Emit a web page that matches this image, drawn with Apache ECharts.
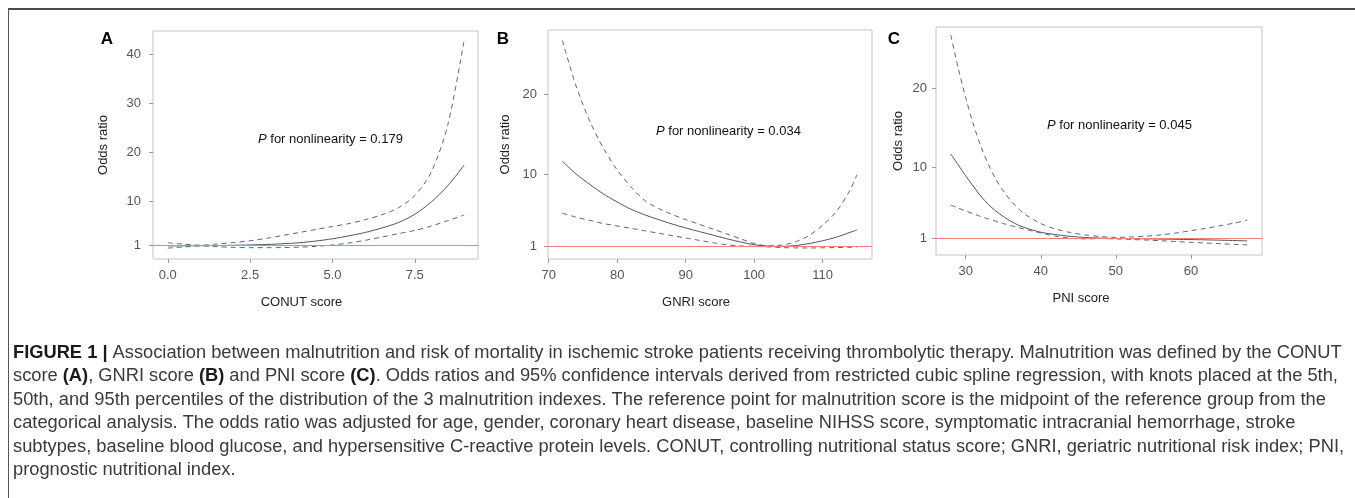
<!DOCTYPE html>
<html>
<head>
<meta charset="utf-8">
<title>Figure 1</title>
<script src="https://cdn.jsdelivr.net/npm/echarts@6.0.0/dist/echarts.min.js"></script>
<style>
  html, body { margin: 0; padding: 0; background: #fff; }
  #main { width: 1355px; height: 498px; }
</style>
</head>
<body>
<div id="main"></div>
<script>
// ---- data ----
// Panel A: CONUT score
const conutX = [0, 0.5, 1, 1.5, 2, 2.5, 3, 3.5, 4, 4.5, 5, 5.5, 6, 6.5, 7, 7.5, 8, 8.5, 9];
const conutOR = [0.95, 0.98, 1.0, 1.03, 1.08, 1.15, 1.25, 1.4, 1.6, 1.95, 2.4, 3.0, 3.7, 4.6, 5.7, 7.4, 9.9, 13.2, 17.4];
const conutUpper = [1.6, 1.3, 1.1, 1.35, 1.65, 2.0, 2.5, 3.1, 3.7, 4.3, 4.9, 5.5, 6.3, 7.3, 8.7, 11.2, 16.0, 25.5, 42.9];
const conutLower = [0.5, 0.75, 0.95, 0.8, 0.65, 0.6, 0.6, 0.62, 0.7, 0.85, 1.15, 1.55, 2.1, 2.75, 3.45, 4.1, 5.0, 6.1, 7.25];

// Panel B: GNRI score
const gnriX = [72, 74, 76, 78, 80, 82, 84, 86, 88, 90, 92, 94, 96, 98, 100, 102, 104, 106, 108, 110, 112, 114, 115];
const gnriOR = [11.6, 10.0, 8.7, 7.5, 6.5, 5.6, 4.9, 4.3, 3.75, 3.25, 2.8, 2.35, 1.9, 1.5, 1.15, 0.98, 0.95, 1.05, 1.3, 1.65, 2.1, 2.7, 3.0];
const gnriUpper = [26.7, 21.0, 16.6, 13.2, 10.5, 8.4, 6.7, 5.7, 4.95, 4.3, 3.7, 3.1, 2.5, 1.9, 1.3, 1.02, 1.1, 1.5, 2.3, 3.6, 5.3, 8.0, 9.9];
const gnriLower = [5.1, 4.6, 4.2, 3.8, 3.5, 3.2, 2.9, 2.6, 2.3, 2.0, 1.7, 1.4, 1.15, 1.0, 0.95, 0.88, 0.8, 0.76, 0.75, 0.77, 0.8, 0.83, 0.85];

// Panel C: PNI score
const pniX = [28, 29, 30, 31, 32, 33, 34, 35, 36, 37, 38, 40, 42, 44, 46, 48, 50, 52, 54, 56, 58, 60, 62, 64, 66, 67.5];
const pniOR = [11.7, 10.3, 8.9, 7.6, 6.35, 5.3, 4.45, 3.75, 3.15, 2.65, 2.3, 1.75, 1.45, 1.22, 1.08, 1.0, 0.97, 0.94, 0.91, 0.88, 0.85, 0.82, 0.78, 0.74, 0.69, 0.65];
const pniUpper = [26.8, 22.6, 18.8, 15.5, 12.7, 10.4, 8.5, 7.0, 5.75, 4.75, 3.95, 2.85, 2.15, 1.7, 1.4, 1.2, 1.1, 1.15, 1.25, 1.42, 1.65, 1.95, 2.25, 2.6, 2.95, 3.3];
const pniLower = [5.2, 4.82, 4.45, 4.1, 3.75, 3.45, 3.15, 2.85, 2.6, 2.35, 2.1, 1.65, 1.25, 0.98, 0.9, 0.95, 0.9, 0.83, 0.76, 0.67, 0.57, 0.47, 0.38, 0.29, 0.2, 0.15];

// tick labels
const conutTicks = [0, 2.5, 5, 7.5];
const gnriTicks = [70, 80, 90, 100, 110];
const pniTicks = [30, 40, 50, 60];
const orTicksA = [1, 10, 20, 30, 40];
const orTicksBC = [1, 10, 20];

const panelTitles = ['CONUT score', 'GNRI score', 'PNI score'];
const pLabels = ['0.179', '0.034', '0.045'];
const refValue = 1;

// caption lines (as wrapped in the figure)
const captionLines = [
  '{b|FIGURE 1 |} Association between malnutrition and risk of mortality in ischemic stroke patients receiving thrombolytic therapy. Malnutrition was defined by the CONUT',
  'score {b|(A)}, GNRI score {b|(B)} and PNI score {b|(C)}. Odds ratios and 95% confidence intervals derived from restricted cubic spline regression, with knots placed at the 5th,',
  '50th, and 95th percentiles of the distribution of the 3 malnutrition indexes. The reference point for malnutrition score is the midpoint of the reference group from the',
  'categorical analysis. The odds ratio was adjusted for age, gender, coronary heart disease, baseline NIHSS score, symptomatic intracranial hemorrhage, stroke',
  'subtypes, baseline blood glucose, and hypersensitive C-reactive protein levels. CONUT, controlling nutritional status score; GNRI, geriatric nutritional risk index; PNI,',
  'prognostic nutritional index.'
];

const FONT = "'Liberation Sans', Arial, Helvetica, sans-serif";

const chart = echarts.init(document.getElementById('main'));

function pairs(xs, ys) {
  return xs.map((x, i) => [x, ys[i]]);
}

// one x axis per panel
function xAxisFor(idx, min, max, ticks, fmt, nameShift) {
  return {
    type: 'value', gridIndex: idx, min: min, max: max,
    name: panelTitles[idx], nameLocation: 'middle', nameGap: 37,
    nameTextStyle: { fontFamily: FONT, fontSize: 13, color: '#222', padding: [0, nameShift, 0, 0] },
    axisLine: { show: false, onZero: false },
    axisTick: { show: true, length: 4, customValues: ticks, lineStyle: { color: '#999' } },
    axisLabel: { customValues: ticks, margin: 10, fontFamily: FONT, fontSize: 13, color: '#555', formatter: fmt },
    splitLine: { show: false }
  };
}

function yAxisFor(idx, min, max, ticks, gap, margin) {
  return {
    type: 'value', gridIndex: idx, min: min, max: max,
    name: 'Odds ratio', nameLocation: 'middle', nameGap: gap,
    nameTextStyle: { fontFamily: FONT, fontSize: 13, color: '#222' },
    axisLine: { show: false, onZero: false },
    axisTick: { show: true, length: 4, customValues: ticks, lineStyle: { color: '#999' } },
    axisLabel: { customValues: ticks, margin: margin, fontFamily: FONT, fontSize: 13, color: '#555' },
    splitLine: { show: false }
  };
}

function panelSeries(idx, xs, est, upper, lower) {
  const base = { type: 'line', xAxisIndex: idx, yAxisIndex: idx, showSymbol: false, smooth: 0.3, silent: true };
  return [
    Object.assign({}, base, {
      name: 'OR', data: pairs(xs, est), z: 3,
      lineStyle: { color: '#555', width: 1 },
      // reference line at OR = 1
      markLine: {
        silent: true, symbol: 'none', label: { show: false },
        lineStyle: { color: '#ef8080', type: 'solid', width: 1 },
        data: [{ yAxis: refValue }]
      }
    }),
    Object.assign({}, base, { name: 'Upper 95% CI', data: pairs(xs, upper), lineStyle: { color: '#666', width: 1, type: [5, 4] } }),
    Object.assign({}, base, { name: 'Lower 95% CI', data: pairs(xs, lower), lineStyle: { color: '#666', width: 1, type: [5, 4] } })
  ];
}

function pText(x, y, val) {
  return {
    type: 'text', x: x, y: y,
    style: {
      text: '{i|P} for nonlinearity = ' + val,
      font: '13px ' + FONT, fill: '#111', textVerticalAlign: 'middle',
      rich: { i: { fontStyle: 'italic', fontSize: 13, fontFamily: FONT, fill: '#111' } }
    }
  };
}

function letter(x, y, t) {
  return {
    type: 'text', x: x, y: y,
    style: { text: t, font: 'bold 17px ' + FONT, fill: '#000', textAlign: 'center', textVerticalAlign: 'middle' }
  };
}

const caption = captionLines.map((line, i) => ({
  type: 'text', x: 13, y: 353 + i * 23.4,
  style: {
    text: line, font: '18.3px ' + FONT, fill: '#3a3a3a', textVerticalAlign: 'middle',
    rich: { b: { fontWeight: 'bold', fontSize: 18.3, fontFamily: FONT, fill: '#1a1a1a' } }
  }
}));

const option = {
  animation: false,
  backgroundColor: '#fff',
  grid: [
    { left: 153, top: 31, width: 325, height: 228, show: true, borderColor: '#c4c4c4', borderWidth: 1, backgroundColor: 'transparent' },
    { left: 548, top: 30, width: 324, height: 229, show: true, borderColor: '#c4c4c4', borderWidth: 1, backgroundColor: 'transparent' },
    { left: 936, top: 27, width: 326, height: 228, show: true, borderColor: '#c4c4c4', borderWidth: 1, backgroundColor: 'transparent' }
  ],
  xAxis: [
    xAxisFor(0, -0.45, 9.42, conutTicks, v => v.toFixed(1), 28),
    xAxisFor(1, 69.9, 117.2, gnriTicks, v => String(v), 28),
    xAxisFor(2, 26.04, 69.47, pniTicks, v => String(v), 36)
  ],
  yAxis: [
    yAxisFor(0, -1.71, 44.7, orTicksA, 43, 12),
    yAxisFor(1, -0.63, 28, orTicksBC, 36, 11),
    yAxisFor(2, -1.14, 27.8, orTicksBC, 31, 9)
  ],
  series: [].concat(
    panelSeries(0, conutX, conutOR, conutUpper, conutLower),
    panelSeries(1, gnriX, gnriOR, gnriUpper, gnriLower),
    panelSeries(2, pniX, pniOR, pniUpper, pniLower)
  ),
  graphic: [
    // figure frame: rule on top, line on the left
    { type: 'line', shape: { x1: 8, y1: 9, x2: 1355, y2: 9 }, style: { stroke: '#4a4a4a', lineWidth: 2 } },
    { type: 'line', shape: { x1: 8.5, y1: 9, x2: 8.5, y2: 498 }, style: { stroke: '#555', lineWidth: 1 } },
    letter(107, 39, 'A'), letter(503, 39, 'B'), letter(894, 39, 'C'),
    pText(258, 139, pLabels[0]), pText(656, 131, pLabels[1]), pText(1047, 125, pLabels[2])
  ].concat(caption)
};

chart.setOption(option);
</script>
</body>
</html>
